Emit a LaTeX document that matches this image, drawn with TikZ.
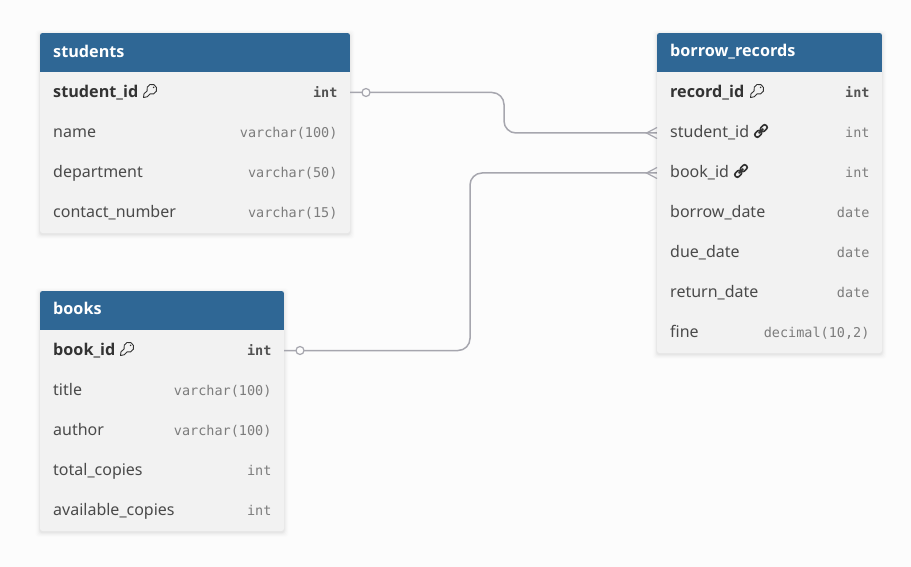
\documentclass[tikz,border=0pt]{standalone}
\usepackage{fontspec}
\setmainfont{Noto Sans}
\newfontfamily\monof{DejaVu Sans Mono}
\newfontfamily\boldf{Open Sans}[BoldFont={Open Sans Bold}]
\definecolor{bgc}{HTML}{FCFCFC}
\definecolor{headc}{HTML}{2F6795}
\definecolor{bodyc}{HTML}{F2F2F2}
\definecolor{textc}{HTML}{4A4A4A}
\definecolor{boldc}{HTML}{333333}
\definecolor{typec}{HTML}{7C7C7C}
\definecolor{linec}{HTML}{A6A6AE}
\tikzset{
  x=1pt,y=-1pt,
  tablebody/.style={fill=bodyc,draw=none,rounded corners=2.5pt,anchor=north west,inner sep=0pt,outer sep=0pt},
  tablehead/.style={anchor=west,text=white,font=\boldf\fontsize{16.2}{18}\selectfont\bfseries,inner sep=0pt},
  fieldname/.style={anchor=base west,text=textc,font=\fontsize{16}{18}\selectfont,inner sep=0pt},
  keyname/.style={anchor=base west,text=boldc,font=\boldf\fontsize{16.2}{18}\selectfont\bfseries,inner sep=0pt},
  fieldtype/.style={anchor=base east,text=typec,font=\monof\fontsize{13.5}{16}\selectfont,inner sep=0pt},
  keytype/.style={anchor=base east,text=boldc!85!white,font=\monof\fontsize{13.5}{16}\selectfont\bfseries,inner sep=0pt},
  relline/.style={draw=linec,line width=1.5pt,rounded corners=12pt},
  crowline/.style={draw=linec,line width=1.2pt},
  opt/.style={circle,draw=linec,fill=bgc,line width=1.2pt,minimum size=8pt,inner sep=0pt},
  keyicon/.pic={
    \draw[boldc,line width=.9pt,line join=round]
      (-2.9,-.09) arc[start angle=160,end angle=470,radius=5]
      -- (-2.8,5.8) -- (-6.5,6.5) -- (-6,2.8) -- cycle;
    \fill[boldc] (3.6,-3.6) circle[radius=.8];
  },
  linkicon/.pic={
    \begin{scope}[rotate=45]
    \draw[boldc,line width=1.7pt,rounded corners=2.2pt] (-.4,-2.5) rectangle (-7.6,2.5);
    \draw[boldc,line width=1.7pt,rounded corners=2.2pt] (.4,-2.5) rectangle (7.6,2.5);
    \draw[boldc,line width=1.7pt] (-3.2,0) -- (3.2,0);
    \end{scope}
  },
}
\newcommand{\softshadow}[4]{%
  \foreach \s/\o in {4.5/.008,3.5/.012,2.5/.016,1.5/.022,.7/.028}{
    \fill[black,opacity=\o,rounded corners=3pt] (#1-\s,#2-\s+1.5) rectangle (#3+\s,#4+\s+1.5);
  }}
\begin{document}
\begin{tikzpicture}
\useasboundingbox (0,0) rectangle (911,567);
\fill[bgc] (0,0) rectangle (911,567);

% ---------- students
\softshadow{40}{33}{350}{233}
\node[tablebody,minimum width=310pt,minimum height=200pt] (students) at (40,33) {};
\begin{scope}
\clip[rounded corners=2.5pt] (40,33) rectangle (350,233);
\fill[headc] (40,33) rectangle (350,72);
\end{scope}
\node[tablehead] (studentsT) at (53,51.5) {students};
\coordinate (stuKeyE) at (350,92.5);
\node[keyname] (s1) at (53,97.6) {student\_id};
\node[keytype] (s1t) at (337.7,97.6) {int};
\node[fieldname] (s2) at (53,137.6) {name};
\node[fieldtype] (s2t) at (337.7,137.6) {varchar(100)};
\node[fieldname] (s3) at (53,177.6) {department};
\node[fieldtype] (s3t) at (337.7,177.6) {varchar(50)};
\node[fieldname] (s4) at (53,217.6) {contact\_number};
\node[fieldtype] (s4t) at (337.7,217.6) {varchar(15)};
\pic at (150,91) {keyicon};

% ---------- books
\softshadow{40}{291}{284}{531}
\node[tablebody,minimum width=244pt,minimum height=240pt] (books) at (40,291) {};
\begin{scope}
\clip[rounded corners=2.5pt] (40,291) rectangle (284,531);
\fill[headc] (40,291) rectangle (284,330);
\end{scope}
\node[tablehead] (booksT) at (53,308.5) {books};
\coordinate (bookKeyE) at (284,350.5);
\node[keyname] (b1) at (53,355) {book\_id};
\node[keytype] (b1t) at (271.7,355) {int};
\node[fieldname] (b2) at (53,395) {title};
\node[fieldtype] (b2t) at (271.7,395) {varchar(100)};
\node[fieldname] (b3) at (53,435) {author};
\node[fieldtype] (b3t) at (271.7,435) {varchar(100)};
\node[fieldname] (b4) at (53,475) {total\_copies};
\node[fieldtype] (b4t) at (271.7,475) {int};
\node[fieldname] (b5) at (53,515) {available\_copies};
\node[fieldtype] (b5t) at (271.7,515) {int};
\pic at (127,349) {keyicon};

% ---------- connectors
\coordinate (recStuW) at (657,133);
\coordinate (recBookW) at (657,173);
\draw[relline] (stuKeyE) -| (504,133) -- (recStuW);
\draw[relline] (bookKeyE) -| (470,173) -- (recBookW);

% ---------- borrow_records
\softshadow{657}{33}{882}{353}
\node[tablebody,minimum width=225pt,minimum height=320pt] (records) at (657,33) {};
\begin{scope}
\clip[rounded corners=2.5pt] (657,33) rectangle (882,353);
\fill[headc] (657,33) rectangle (882,72);
\end{scope}
\node[tablehead] (recordsT) at (670,51.5) {borrow\_records};
\node[keyname] (r1) at (670,97.6) {record\_id};
\node[keytype] (r1t) at (869.7,97.6) {int};
\node[fieldname] (r2) at (670,137.6) {student\_id};
\node[fieldtype] (r2t) at (869.7,137.6) {int};
\node[fieldname] (r3) at (670,177.6) {book\_id};
\node[fieldtype] (r3t) at (869.7,177.6) {int};
\node[fieldname] (r4) at (670,217.6) {borrow\_date};
\node[fieldtype] (r4t) at (869.7,217.6) {date};
\node[fieldname] (r5) at (670,257) {due\_date};
\node[fieldtype] (r5t) at (869.7,257) {date};
\node[fieldname] (r6) at (670,297) {return\_date};
\node[fieldtype] (r6t) at (869.7,297) {date};
\node[fieldname] (r7) at (670,337) {fine};
\node[fieldtype] (r7t) at (869.7,337) {decimal(10,2)};
\pic at (757,91) {keyicon};
\pic at (761,131) {linkicon};
\pic at (741,171) {linkicon};

% ---------- connector ends
\node[opt] (o1) at (366,92.5) {};
\node[opt] (o2) at (300,350.5) {};
\coordinate (c1) at (646.5,133);
\coordinate (c2) at (646.5,173);
\draw[crowline] (657,127.5) -- (c1) -- (657,138.5);
\draw[crowline] (657,167.5) -- (c2) -- (657,178.5);
\end{tikzpicture}
\end{document}
